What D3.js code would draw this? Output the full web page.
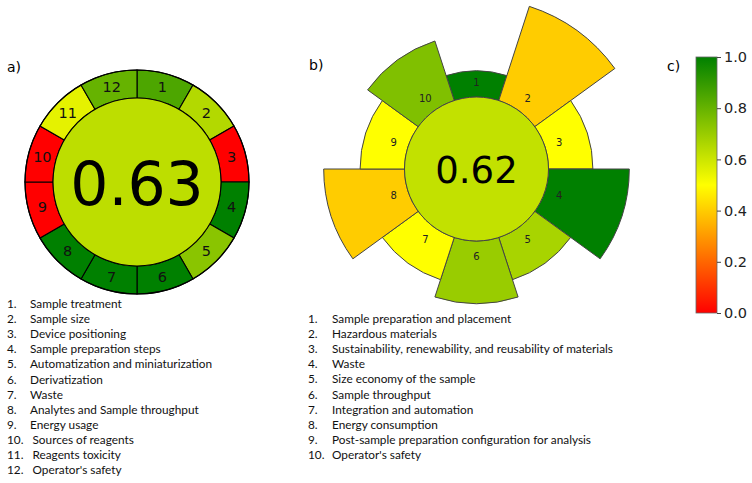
<!DOCTYPE html>
<html><head><meta charset="utf-8">
<script src="https://cdn.jsdelivr.net/npm/d3@7"></script>
<style>
body{margin:0;background:#fff;}
svg{display:block;}
</style></head>
<body>
<svg id="chart" width="752" height="483"></svg>
<script>
// ---------- data ----------
const agreeCriteria = ["1","2","3","4","5","6","7","8","9","10","11","12"];
const agreeScores = [0.85,0.65,0,1,0.73,1,1,1,0,0,0.55,0.8];
const agreeTotal = "0.63";
const agreeLegend = ["Sample treatment","Sample size","Device positioning","Sample preparation steps","Automatization and miniaturization","Derivatization","Waste","Analytes and Sample throughput","Energy usage","Sources of reagents","Reagents toxicity","Operator's safety"];

const prepCriteria = ["1","2","3","4","5","6","7","8","9","10"];
const prepScores = [1,0.4,0.5,1,0.67,0.7,0.5,0.4,0.5,0.75];
const prepWeights = [1,5,2,4,2,3,2,4,2,3];
const prepTotal = "0.62";
const prepLegend = ["Sample preparation and placement","Hazardous materials","Sustainability, renewability, and reusability of materials","Waste","Size economy of the sample","Sample throughput","Integration and automation","Energy consumption","Post-sample preparation configuration for analysis","Operator's safety"];

const colorbarTicks = [0,0.2,0.4,0.6,0.8,1.0];
const totalScores = {a:0.63, b:0.62};

// ---------- scales ----------
const color = d3.scaleLinear().domain([0,0.5,1]).range(["#ff0000","#ffff00","#008000"]);
const svg = d3.select("#chart");
const chartFont = "DejaVu Sans";
const legendFont = "Lato";

// ---------- panel a ----------
{
  const cx=137, cy=182, rIn=84, rOut=112;
  const g = svg.append("g").attr("transform",`translate(${cx},${cy})`);
  const ang = d3.scaleBand().domain(agreeCriteria).range([0,2*Math.PI]);
  const arc = d3.arc().innerRadius(rIn).outerRadius(rOut)
    .startAngle(d=>ang(d)).endAngle(d=>ang(d)+ang.bandwidth());
  g.selectAll("path.seg").data(agreeCriteria).join("path")
    .attr("d",arc).attr("fill",(d,i)=>color(agreeScores[i]))
    .attr("stroke","#000").attr("stroke-width",1.1);
  g.append("circle").attr("r",rOut).attr("fill","none").attr("stroke","#000").attr("stroke-width",1.2);
  g.append("circle").attr("r",rIn).attr("fill",color(totalScores.a)).attr("stroke","#000").attr("stroke-width",1.1);
  g.selectAll("text.lab").data(agreeCriteria).join("text")
    .attr("x",d=>Math.sin(ang(d)+ang.bandwidth()/2)*98)
    .attr("y",d=>-Math.cos(ang(d)+ang.bandwidth()/2)*98)
    .attr("text-anchor","middle").attr("dominant-baseline","central")
    .attr("font-family",chartFont).attr("font-size",14.5).attr("fill","#111")
    .text(d=>d);
  g.append("text").attr("y",2).attr("text-anchor","middle").attr("dominant-baseline","central")
    .attr("font-family",chartFont).attr("font-size",60).attr("fill","#000").text(agreeTotal);
  svg.append("text").attr("x",7).attr("y",72).attr("font-family",chartFont).attr("font-size",14).text("a)");
  const lg = svg.append("g").attr("font-family",legendFont).attr("font-size",11.8).attr("fill","#111");
  agreeLegend.forEach((t,i)=>{
    const y=308+i*15.1;
    lg.append("text").attr("x",7).attr("y",y).text((i+1)+".");
    lg.append("text").attr("x",i>=9?32.5:30).attr("y",y).text(t);
  });
}

// ---------- panel b ----------
{
  const cx=476.5, cy=169, rIn=72;
  const g = svg.append("g").attr("transform",`translate(${cx},${cy})`);
  const ang = d3.scaleBand().domain(prepCriteria).range([-Math.PI/10, 2*Math.PI-Math.PI/10]);
  const rad = d3.scaleLinear().domain([0,5]).range([80,171]);
  const arc = d3.arc().innerRadius(rIn)
    .outerRadius((d,i)=>rad(prepWeights[i]))
    .startAngle(d=>ang(d)).endAngle(d=>ang(d)+ang.bandwidth());
  g.selectAll("path.seg").data(prepCriteria).join("path")
    .attr("d",(d,i)=>arc(d,i)).attr("fill",(d,i)=>color(prepScores[i]))
    .attr("stroke","#444").attr("stroke-width",1);
  g.append("circle").attr("r",rIn).attr("fill",color(totalScores.b)).attr("stroke","#444").attr("stroke-width",1);
  g.selectAll("text.lab").data(prepCriteria).join("text")
    .attr("x",d=>Math.sin(ang(d)+ang.bandwidth()/2)*87)
    .attr("y",d=>-Math.cos(ang(d)+ang.bandwidth()/2)*87)
    .attr("text-anchor","middle").attr("dominant-baseline","central")
    .attr("font-family",chartFont).attr("font-size",10).attr("fill","#222")
    .text(d=>d);
  g.append("text").attr("y",1).attr("text-anchor","middle").attr("dominant-baseline","central")
    .attr("font-family",chartFont).attr("font-size",37).attr("fill","#000").text(prepTotal);
  svg.append("text").attr("x",309).attr("y",70).attr("font-family",chartFont).attr("font-size",14).text("b)");
  const lg = svg.append("g").attr("font-family",legendFont).attr("font-size",11.8).attr("fill","#111");
  prepLegend.forEach((t,i)=>{
    const y=323+i*15.1;
    lg.append("text").attr("x",308).attr("y",y).text((i+1)+".");
    lg.append("text").attr("x",332).attr("y",y).text(t);
  });
}

// ---------- panel c (colorbar) ----------
{
  const x0=696, w=21, yTop=57, yBot=313;
  const y = d3.scaleLinear().domain([0,1]).range([yBot,yTop]);
  const defs = svg.append("defs");
  const grad = defs.append("linearGradient").attr("id","cbar").attr("x1",0).attr("y1",1).attr("x2",0).attr("y2",0);
  d3.range(0,1.0001,0.05).forEach(v=>grad.append("stop").attr("offset",v).attr("stop-color",color(v)));
  svg.append("rect").attr("x",x0).attr("y",yTop).attr("width",w).attr("height",yBot-yTop)
    .attr("fill","url(#cbar)").attr("stroke","#666").attr("stroke-width",0.8);
  const ax = svg.append("g").attr("transform",`translate(${x0+w},0)`)
    .call(d3.axisRight(y).tickValues(colorbarTicks).tickFormat(d3.format(".1f")).tickSize(4).tickPadding(3));
  ax.select(".domain").remove();
  ax.selectAll("text").attr("font-family",chartFont).attr("font-size",14.5).attr("fill","#222");
  ax.selectAll("line").attr("stroke","#444");
  svg.append("text").attr("x",667).attr("y",71).attr("font-family",chartFont).attr("font-size",14).text("c)");
}
</script>
</body></html>
